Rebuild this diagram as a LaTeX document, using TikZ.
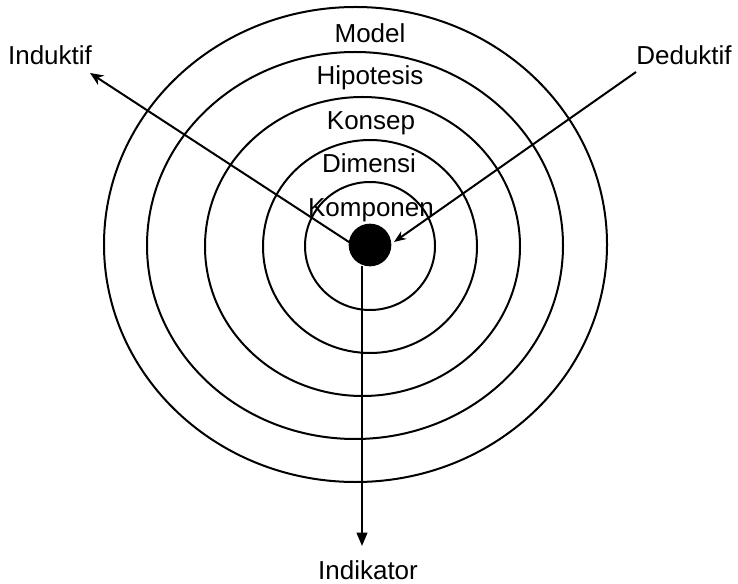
\documentclass[tikz,border=0pt]{standalone}
\usepackage{fontspec}
\setmainfont{Liberation Sans}
\usetikzlibrary{arrows.meta}

\begin{document}
\begin{tikzpicture}[
  x=0.75pt, y=-0.75pt,
  >={Stealth[length=10pt,width=8.5pt]},
  ring/.style={line width=1.5pt},
  layerlabel/.style={font=\fontsize{19.5}{22}\selectfont, inner sep=0pt, anchor=base},
  arrowline/.style={line width=1.5pt},
]
\useasboundingbox (0,0) rectangle (738,584);

% ======= Rings =======
\draw[ring] (370,246)     ellipse [x radius=65,    y radius=64];
\draw[ring] (370,246.5)   ellipse [x radius=107,   y radius=106.5];
\draw[ring] (362.5,246.5) ellipse [x radius=157.5, y radius=149.5];
\draw[ring] (355,245.5)   ellipse [x radius=208,   y radius=193.5];
\draw[ring] (355.5,244.5) ellipse [x radius=251.5, y radius=237.5];

% Layer names
\node[layerlabel] (model) at (370,43) {Model};
\node[layerlabel] (hipotesis) at (370,85) {Hipotesis};
\node[layerlabel] (konsep) at (371,130) {Konsep};
\node[layerlabel] (dimensi) at (369,173) {Dimensi};
\node[layerlabel] (komponen) at (371,217) {Komponen};

% ======= Core =======
\node[circle, fill, inner sep=0pt, minimum size=32pt] (core) at (370,245) {};

% Outer labels
\node[layerlabel] (induktif) at (50,65) {Induktif};
\node[layerlabel] (deduktif) at (684,65) {Deduktif};
\node[layerlabel] (indikator) at (368,579) {Indikator};

% ======= Arrows =======
\coordinate (indStart) at (352,244);
\coordinate (indTip) at (90,73);
\draw[arrowline, ->] (indStart) -- (indTip);

\coordinate (dedStart) at (636,72);
\coordinate (dedTip) at (394,242);
\draw[arrowline, -{Stealth[open,length=9pt,width=7pt]}] (dedStart) -- (dedTip);

\coordinate (vertStart) at (362,266);
\coordinate (vertTip) at (362,546);
\draw[arrowline, -{Triangle[length=10pt,width=8pt]}] (vertStart) -- (vertTip);

\end{tikzpicture}
\end{document}
